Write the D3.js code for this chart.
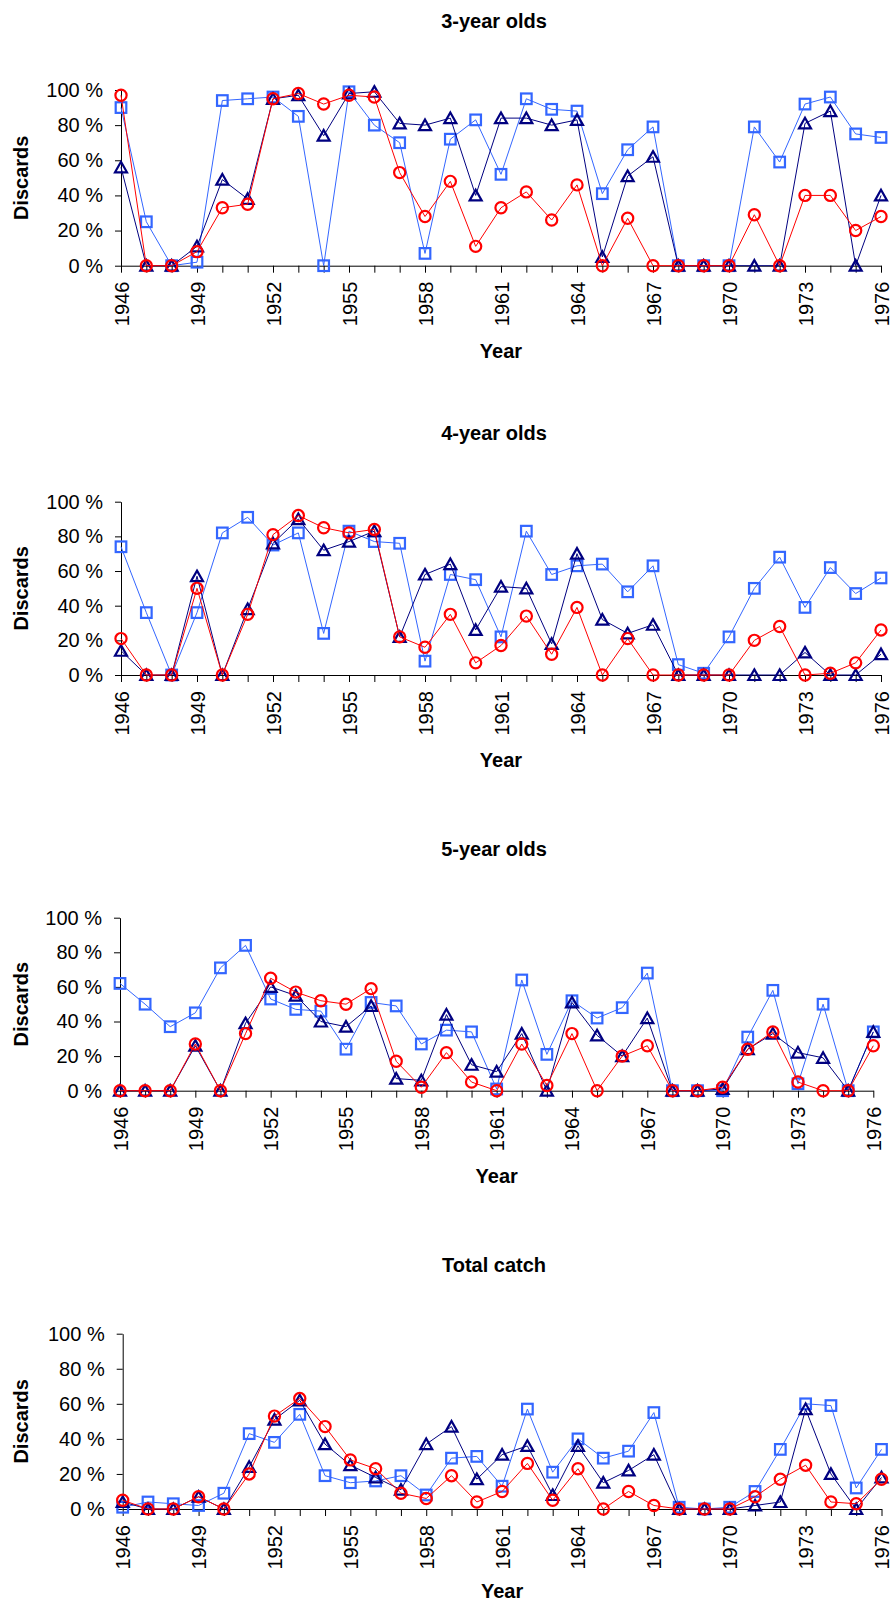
<!DOCTYPE html>
<html>
<head>
<meta charset="utf-8">
<script src="https://cdn.jsdelivr.net/npm/d3@7/dist/d3.min.js"></script>
<style>
    body { margin: 0; background: #fff; }
    svg { display: block; font-family: "Liberation Sans", Arial, sans-serif; }
</style>
</head>
<body>
<svg id="chart" width="891" height="1604"></svg>
<script>
// years on the x axis and the ones that get a label
var years = [1946, 1947, 1948, 1949, 1950, 1951, 1952, 1953, 1954, 1955, 1956,
    1957, 1958, 1959, 1960, 1961, 1962, 1963, 1964, 1965, 1966, 1967, 1968,
    1969, 1970, 1971, 1972, 1973, 1974, 1975, 1976];
var yearLabels = [1946, 1949, 1952, 1955, 1958, 1961, 1964, 1967, 1970, 1973, 1976];
var yTicks = [0, 20, 40, 60, 80, 100];

var titles = ["3-year olds", "4-year olds", "5-year olds", "Total catch"];

// discards (%) - navy triangles, blue squares, red circles
var age3Tri = [56, 0, 0, 11, 49, 38, 95, 97, 74, 98, 99, 81, 80, 84, 40, 84, 84, 80, 83, 5, 51, 62, 0, 0, 0, 0, 0, 81, 88, 0, 40];
var age3Sq = [90, 25, 0, 2, 94, 95, 96, 85, 0, 99, 80, 70, 7, 72, 83, 52, 95, 89, 88, 41, 66, 79, 0, 0, 0, 79, 59, 92, 96, 75, 73];
var age3Circ = [97, 0, 0, 8, 33, 35, 95, 98, 92, 97, 96, 53, 28, 48, 11, 33, 42, 26, 46, 0, 27, 0, 0, 0, 0, 29, 0, 40, 40, 20, 28];

var age4Tri = [14, 0, 0, 57, 0, 38, 76, 90, 72, 77, 83, 22, 58, 64, 26, 51, 50, 18, 70, 32, 24, 29, 0, 0, 0, 0, 0, 13, 0, 0, 12];
var age4Sq = [74, 36, 0, 36, 82, 91, 75, 82, 24, 83, 77, 76, 8, 58, 55, 22, 83, 58, 63, 64, 48, 63, 6, 1, 22, 50, 68, 39, 62, 47, 56];
var age4Circ = [21, 0, 0, 50, 0, 35, 81, 92, 85, 82, 84, 22, 16, 35, 7, 17, 34, 12, 39, 0, 21, 0, 0, 0, 0, 20, 28, 0, 1, 7, 26];

var age5Tri = [0, 0, 0, 26, 0, 39, 60, 55, 40, 37, 49, 7, 6, 44, 15, 11, 33, 0, 51, 32, 20, 42, 0, 0, 1, 24, 33, 22, 19, 0, 34];
var age5Sq = [62, 50, 37, 45, 71, 84, 53, 47, 46, 24, 51, 49, 27, 35, 34, 1, 64, 21, 52, 42, 48, 68, 0, 0, 0, 31, 58, 4, 50, 0, 34];
var age5Circ = [0, 0, 0, 27, 0, 33, 65, 57, 52, 50, 59, 17, 2, 22, 5, 0, 27, 3, 33, 0, 20, 26, 0, 0, 2, 24, 34, 5, 0, 0, 26];

var totalTri = [4, 0, 0, 7, 0, 24, 51, 62, 37, 25, 18, 11, 37, 47, 17, 31, 36, 8, 36, 15, 22, 31, 0, 0, 0, 2, 4, 57, 20, 0, 18];
var totalSq = [1, 4, 3, 2, 9, 43, 38, 54, 19, 15, 16, 19, 8, 29, 30, 13, 57, 21, 40, 29, 33, 55, 1, 0, 1, 10, 34, 60, 59, 12, 34];
var totalCirc = [5, 0, 0, 7, 0, 20, 53, 63, 47, 28, 23, 9, 6, 19, 4, 10, 26, 5, 23, 0, 10, 2, 0, 0, 0, 7, 17, 25, 4, 3, 17];

( function () {

    window.addEventListener('load', init);

    function init() {
        var svg = d3.select("#chart");
        var font = '"Liberation Sans", Arial, sans-serif';

        // plot boxes of the four panels
        var boxes = [
            {top: 90, bottom: 265.7, left: 121, right: 881},
            {top: 501.7, bottom: 675, left: 121, right: 881},
            {top: 917.7, bottom: 1090.7, left: 120, right: 873.3},
            {top: 1333.7, bottom: 1509, left: 122.7, right: 881.5}
        ];
        var data = [
            [age3Sq, age3Tri, age3Circ],
            [age4Sq, age4Tri, age4Circ],
            [age5Sq, age5Tri, age5Circ],
            [totalSq, totalTri, totalCirc]
        ];
        var styles = [
            {color: "#3366ff", shape: "square"},
            {color: "#000080", shape: "triangle"},
            {color: "#ff0000", shape: "circle"}
        ];

        boxes.forEach(function (p, k) {
            var x = d3.scaleLinear().domain([1946, 1976]).range([p.left, p.right]),
                y = d3.scaleLinear().domain([0, 100]).range([p.bottom, p.top]);

            var g = svg.append("g");

            // title
            g.append("text")
                .attr("x", 494)
                .attr("y", p.top - 62)
                .attr("text-anchor", "middle")
                .style("font-size", "20px")
                .style("font-weight", "bold")
                .text(titles[k]);

            // y axis
            var ya = g.append("g")
                .attr("transform", "translate(" + p.left + ",0)")
                .call(d3.axisLeft(y).tickValues(yTicks).tickSize(6).tickSizeOuter(0).tickPadding(12)
                    .tickFormat(function (d) { return d + " %"; }));
            ya.attr("font-family", font).attr("font-size", 20);
            ya.selectAll("text").attr("fill", "#000");

            // x axis
            var xa = g.append("g")
                .attr("transform", "translate(0," + p.bottom + ")")
                .call(d3.axisBottom(x).tickValues(years).tickSize(7).tickSizeOuter(0)
                    .tickFormat(function (d) { return yearLabels.indexOf(d) >= 0 ? d : ""; }));
            xa.attr("font-family", font).attr("font-size", 20);
            xa.selectAll("text")
                .attr("transform", "rotate(-90)")
                .attr("text-anchor", "end")
                .attr("x", -16)
                .attr("y", 0)
                .attr("dy", "0.35em")
                .attr("fill", "#000");

            // axis titles
            g.append("text")
                .attr("transform", "translate(21," + ((p.top + p.bottom) / 2) + ") rotate(-90)")
                .attr("text-anchor", "middle")
                .attr("dy", "0.35em")
                .style("font-size", "20px")
                .style("font-weight", "bold")
                .text("Discards");

            g.append("text")
                .attr("x", (p.left + p.right) / 2)
                .attr("y", Math.min(p.bottom + 92, 1598))
                .attr("text-anchor", "middle")
                .style("font-size", "20px")
                .style("font-weight", "bold")
                .text("Year");

            // series: line then hollow markers
            data[k].forEach(function (values, s) {
                var st = styles[s];
                var line = d3.line()
                    .x(function (d, i) { return x(years[i]); })
                    .y(function (d) { return y(d); });

                g.append("path")
                    .datum(values)
                    .attr("fill", "none")
                    .attr("stroke", st.color)
                    .attr("stroke-width", 1)
                    .attr("d", line);

                var m = g.selectAll(".m" + s)
                    .data(values)
                    .enter().append("g")
                    .attr("class", "m" + s)
                    .attr("transform", function (d, i) {
                        return "translate(" + x(years[i]) + "," + y(d) + ")";
                    });

                if (st.shape === "square") {
                    m.append("rect")
                        .attr("x", -5.3).attr("y", -5.3)
                        .attr("width", 10.6).attr("height", 10.6);
                } else if (st.shape === "triangle") {
                    m.append("path").attr("d", "M0,-5.6L6,5L-6,5Z");
                } else {
                    m.append("circle").attr("r", 5.6);
                }
                m.selectAll("*")
                    .attr("fill", "none")
                    .attr("stroke", st.color)
                    .attr("stroke-width", 2.2);
            });
        });
    }
})()
</script>
</body>
</html>
